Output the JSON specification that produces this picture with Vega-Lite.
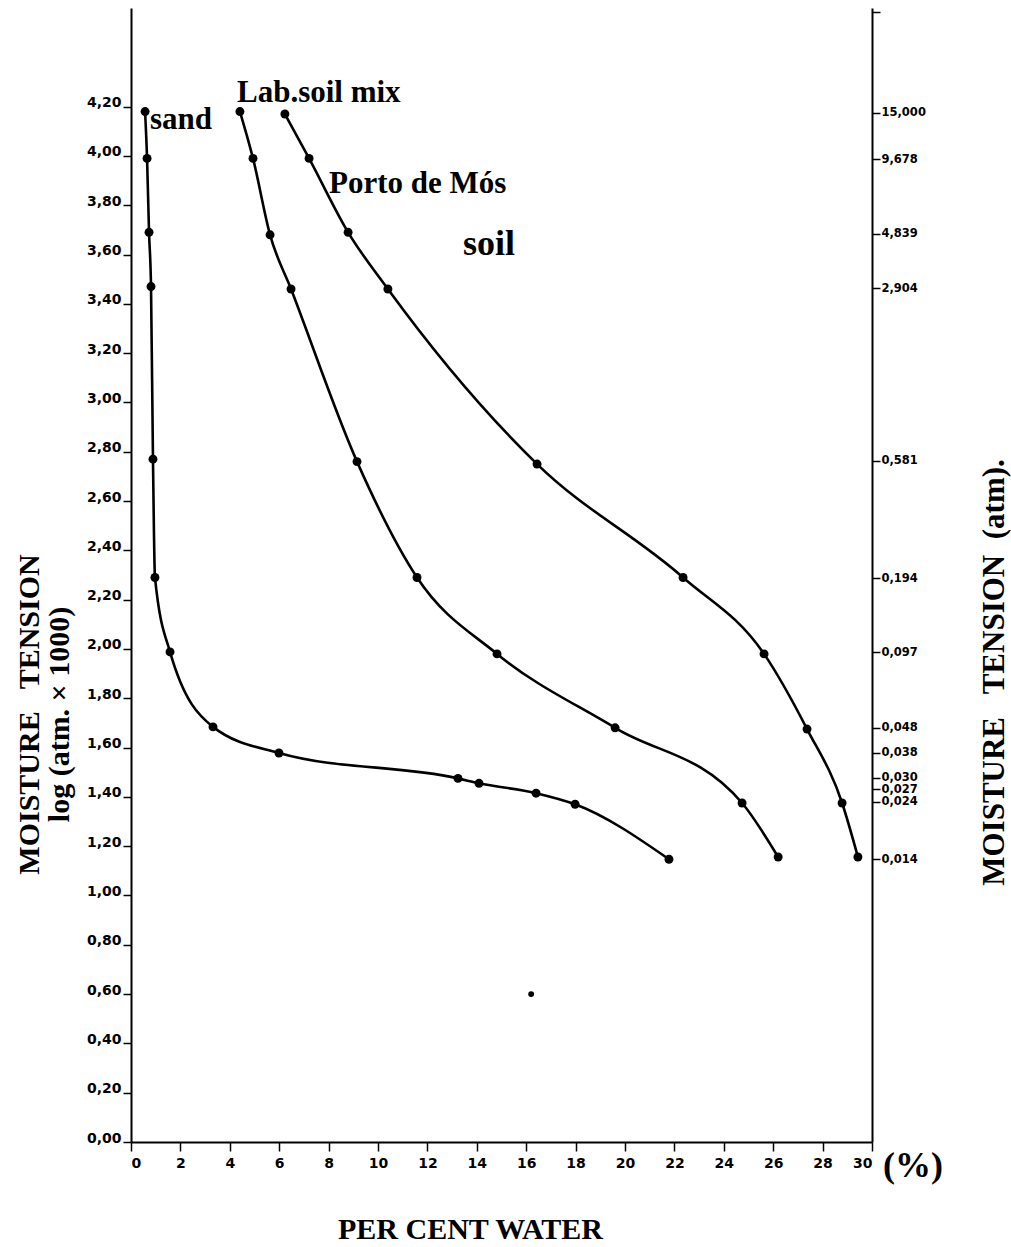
{
  "$schema": "https://vega.github.io/schema/vega-lite/v6.json",
  "autosize": "none",
  "width": 741,
  "height": 1134,
  "padding": {"left": 131, "top": 8, "right": 139, "bottom": 105},
  "background": "white",
  "config": {"view": {"stroke": null}},
  "datasets": {
    "curves": [
      {"series": "sand", "water": 0.57, "tension": 4.18},
      {"series": "sand", "water": 0.65, "tension": 3.99},
      {"series": "sand", "water": 0.73, "tension": 3.69},
      {"series": "sand", "water": 0.81, "tension": 3.47},
      {"series": "sand", "water": 0.89, "tension": 2.77},
      {"series": "sand", "water": 0.97, "tension": 2.29},
      {"series": "sand", "water": 1.58, "tension": 1.988},
      {"series": "sand", "water": 3.32, "tension": 1.684},
      {"series": "sand", "water": 5.99, "tension": 1.578},
      {"series": "sand", "water": 13.24, "tension": 1.475},
      {"series": "sand", "water": 14.09, "tension": 1.455},
      {"series": "sand", "water": 16.4, "tension": 1.415},
      {"series": "sand", "water": 17.98, "tension": 1.37},
      {"series": "sand", "water": 21.78, "tension": 1.147},
      {"series": "lab", "water": 4.41, "tension": 4.18},
      {"series": "lab", "water": 4.94, "tension": 3.99},
      {"series": "lab", "water": 5.63, "tension": 3.68},
      {"series": "lab", "water": 6.48, "tension": 3.46},
      {"series": "lab", "water": 9.15, "tension": 2.76},
      {"series": "lab", "water": 11.58, "tension": 2.29},
      {"series": "lab", "water": 14.82, "tension": 1.98},
      {"series": "lab", "water": 19.6, "tension": 1.68},
      {"series": "lab", "water": 24.74, "tension": 1.375},
      {"series": "lab", "water": 26.2, "tension": 1.156},
      {"series": "porto", "water": 6.23, "tension": 4.17},
      {"series": "porto", "water": 7.21, "tension": 3.99},
      {"series": "porto", "water": 8.79, "tension": 3.69},
      {"series": "porto", "water": 10.4, "tension": 3.46},
      {"series": "porto", "water": 16.44, "tension": 2.75},
      {"series": "porto", "water": 22.35, "tension": 2.29},
      {"series": "porto", "water": 25.63, "tension": 1.98},
      {"series": "porto", "water": 27.37, "tension": 1.675},
      {"series": "porto", "water": 28.79, "tension": 1.375},
      {"series": "porto", "water": 29.43, "tension": 1.156}
    ],
    "labels": [
      {"kind": "name", "text": "sand", "water": 0.77, "tension": 4.11},
      {"kind": "name", "text": "Lab.soil mix", "water": 4.29, "tension": 4.22},
      {"kind": "name", "text": "Porto de Mós", "water": 8.02, "tension": 3.85},
      {"kind": "big", "text": "soil", "water": 13.44, "tension": 3.6},
      {"kind": "unit", "text": "(%)", "water": 30.45, "tension": -0.142}
    ],
    "speck": [{"water": 16.2, "tension": 0.6}]
  },
  "layer": [
    {
      "data": {"name": "curves"},
      "mark": {"type": "line", "interpolate": "monotone", "color": "black", "strokeWidth": 2.6},
      "encoding": {
        "x": {"field": "water", "type": "quantitative", "scale": {"domain": [0, 30], "nice": false},
          "axis": {"values": [0,2,4,6,8,10,12,14,16,18,20,22,24,26,28,30], "labelFont": "DejaVu Sans", "labelFontWeight": "bold", "labelFontSize": 14, "labelColor": "black", "labelPadding": 5, "tickSize": 9, "tickColor": "black", "tickWidth": 1.5, "domainColor": "black", "domainWidth": 2, "grid": false,
            "title": "PER CENT WATER", "titleFont": "Liberation Serif", "titleFontWeight": "bold", "titleFontSize": 30, "titleColor": "black", "titleX": 339, "titleY": 96, "titleAlign": "center", "titleBaseline": "alphabetic"}},
        "y": {"field": "tension", "type": "quantitative", "scale": {"domain": [0, 4.6], "nice": false, "zero": false},
          "axis": {"values": [0,0.2,0.4,0.6,0.8,1.0,1.2,1.4,1.6,1.8,2.0,2.2,2.4,2.6,2.8,3.0,3.2,3.4,3.6,3.8,4.0,4.2],
            "labelExpr": "replace(format(datum.value, '.2f'), '.', ',')", "labelFont": "DejaVu Sans", "labelFontWeight": "bold", "labelFontSize": 14, "labelColor": "black", "labelBaseline": "alphabetic", "labelPadding": 2, "tickSize": 8, "tickColor": "black", "tickWidth": 1.5, "domainColor": "black", "domainWidth": 2, "grid": false,
            "title": ["MOISTURE\u00a0\u00a0 TENSION", "log (atm. × 1000)"], "titleFont": "Liberation Serif", "titleFontWeight": "bold", "titleFontSize": 30, "titleLineHeight": 30, "titleColor": "black", "titleAngle": -90, "titleX": -93, "titleY": 706, "titleAlign": "center", "titleBaseline": "alphabetic"}},
        "detail": {"field": "series"}
      }
    },
    {
      "data": {"name": "curves"},
      "mark": {"type": "point", "filled": true, "color": "black", "size": 80, "opacity": 1},
      "encoding": {
        "x": {"field": "water", "type": "quantitative"},
        "y": {"field": "tension", "type": "quantitative",
          "axis": {"orient": "right", "values": [4.585, 4.17609, 3.98579, 3.68476, 3.463, 2.76418, 2.2878, 1.98677, 1.68124, 1.57978, 1.47712, 1.43136, 1.38021, 1.14613],
            "labelExpr": "datum.value > 4.5 ? '' : replace(format(pow(10, datum.value) / 1000, '.3f'), '.', ',')", "labelFont": "DejaVu Sans", "labelFontWeight": "bold", "labelFontSize": 11.5, "labelColor": "black", "labelPadding": 1, "tickSize": 8, "tickColor": "black", "tickWidth": 1.5, "domainColor": "black", "domainWidth": 2, "grid": false, "labelOverlap": false,
            "title": "MOISTURE\u00a0\u00a0 TENSION\u00a0 (atm).", "titleFont": "Liberation Serif", "titleFontWeight": "bold", "titleFontSize": 31, "titleColor": "black", "titleAngle": -90, "titleX": 131, "titleY": 664, "titleAlign": "center", "titleBaseline": "alphabetic"}}
      }
    },
    {
      "data": {"name": "speck"},
      "mark": {"type": "point", "filled": true, "color": "black", "size": 35, "opacity": 1},
      "encoding": {
        "x": {"field": "water", "type": "quantitative"},
        "y": {"field": "tension", "type": "quantitative", "axis": null}
      }
    },
    {
      "data": {"name": "labels"},
      "transform": [{"filter": "datum.kind == 'name'"}],
      "mark": {"type": "text", "font": "Liberation Serif", "fontWeight": "bold", "fontSize": 31, "align": "left", "baseline": "alphabetic", "color": "black"},
      "encoding": {
        "x": {"field": "water", "type": "quantitative"},
        "y": {"field": "tension", "type": "quantitative", "axis": null},
        "text": {"field": "text"}
      }
    },
    {
      "data": {"name": "labels"},
      "transform": [{"filter": "datum.kind == 'big'"}],
      "mark": {"type": "text", "font": "Liberation Serif", "fontWeight": "bold", "fontSize": 36, "align": "left", "baseline": "alphabetic", "color": "black"},
      "encoding": {
        "x": {"field": "water", "type": "quantitative"},
        "y": {"field": "tension", "type": "quantitative", "axis": null},
        "text": {"field": "text"}
      }
    },
    {
      "data": {"name": "labels"},
      "transform": [{"filter": "datum.kind == 'unit'"}],
      "mark": {"type": "text", "font": "Liberation Serif", "fontWeight": "bold", "fontSize": 36, "align": "left", "baseline": "alphabetic", "color": "black", "clip": false},
      "encoding": {
        "x": {"field": "water", "type": "quantitative"},
        "y": {"field": "tension", "type": "quantitative", "axis": null},
        "text": {"field": "text"}
      }
    }
  ],
  "resolve": {"axis": {"y": "independent"}}
}
